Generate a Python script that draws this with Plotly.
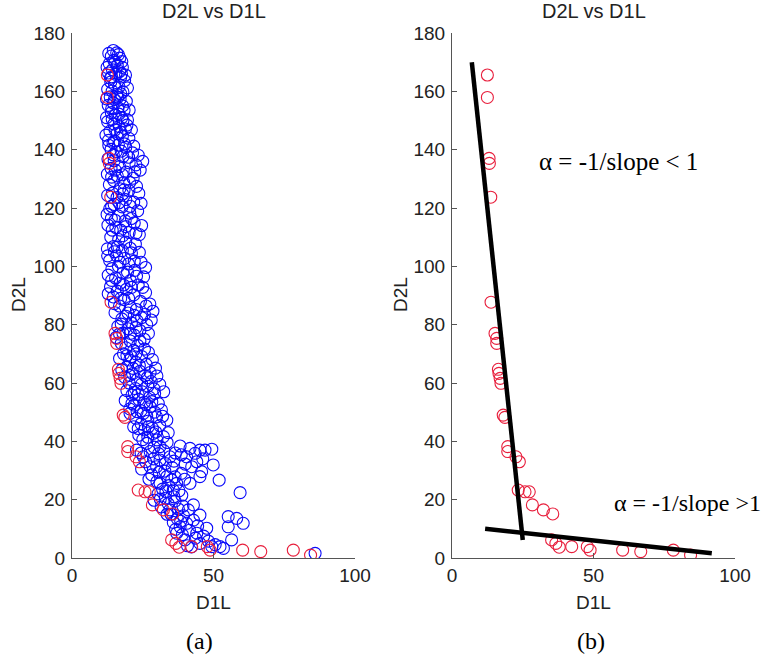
import plotly.graph_objects as go

# ---------------- data ----------------
blue_points = [
    (14.6,174.0),(15.8,173.2),(13.9,172.1),(16.9,171.4),(14.8,170.6),(13.2,169.5),(16.0,168.9),(17.8,168.2),
    (14.3,167.4),(12.9,166.3),(15.5,165.8),(17.2,164.9),(18.6,163.7),(13.7,163.2),(15.0,162.4),(16.6,161.5),
    (12.6,160.7),(14.2,160.1),(18.0,159.8),
    (15.8,159.0),(13.5,158.1),(17.0,157.3),(19.2,156.6),(14.6,156.0),(12.8,155.2),(16.3,154.4),(18.4,153.5),
    (13.9,152.7),(15.3,151.8),(17.6,151.0),(19.6,150.2),(12.6,149.6),(14.8,148.8),(16.7,147.9),(18.9,147.1),
    (13.4,146.3),(15.9,145.5),(17.8,144.6),(20.1,143.9),(12.9,143.2),(14.5,142.4),(16.4,141.6),(19.0,140.8),
    (13.8,140.1),
    (15.6,139.3),(21.4,138.9),(23.4,138.1),(18.0,137.6),(12.7,136.8),(14.9,136.2),(20.2,135.5),(22.6,134.8),
    (16.8,134.2),(13.8,133.6),(24.1,133.0),(19.1,132.3),(12.5,131.6),(16.0,131.0),(21.6,130.2),(14.8,129.4),
    (18.3,128.7),(13.2,128.0),(22.8,127.4),(16.9,126.6),(20.1,126.0),(14.3,125.1),(12.6,124.3),(15.9,123.6),
    (19.0,122.9),(21.8,122.0),(14.9,121.2),(17.7,120.4),(13.3,119.7),
    (23.2,119.0),(20.4,118.2),(16.3,117.3),(13.9,116.4),(18.8,115.6),(22.0,114.9),(12.7,114.1),(15.5,113.3),
    (17.2,112.4),(20.2,111.6),(23.8,110.9),(13.7,110.0),(16.5,109.2),(19.0,108.3),(22.4,107.6),(14.7,106.8),
    (12.5,106.0),(17.8,105.4),(21.0,104.6),(15.8,103.6),(18.6,102.7),(13.3,102.0),(24.4,101.4),(20.0,100.8),
    (16.4,100.0),(14.1,99.2),(22.2,98.6),(18.0,97.7),(12.8,97.0),(25.3,96.4),(15.4,96.0),(20.6,95.1),
    (17.0,94.2),(23.4,93.6),(13.6,93.0),(19.2,92.1),(16.0,91.5),(26.0,91.0),(21.8,90.2),(14.6,89.5),
    (18.4,88.6),(24.2,88.0),(27.5,87.1),(16.8,86.4),(20.6,85.9),(22.8,85.2),(28.6,84.6),(15.2,84.1),
    (25.6,83.5),(19.0,82.9),(17.6,82.0),(23.0,81.4),(21.0,80.6),(26.4,80.0),
    (16.2,79.4),(19.8,78.6),(24.0,78.0),(18.0,77.1),(22.0,76.4),(15.6,75.6),(25.5,75.0),(20.6,74.4),
    (17.4,73.6),(23.2,72.9),(19.0,72.1),(21.8,71.2),(27.0,70.5),(18.2,70.0),(24.6,69.1),(16.8,68.4),
    (20.4,67.9),(22.6,67.1),(26.2,66.4),(19.4,65.6),(29.5,65.1),(17.6,64.5),(24.0,64.0),(21.4,63.2),
    (25.8,62.5),(18.6,62.0),(23.0,61.1),(28.0,60.5),(20.2,60.0),
    (31.0,59.5),(26.8,58.9),(22.4,58.1),(19.4,57.4),(24.8,57.0),(29.2,56.4),(21.2,55.9),(27.4,55.1),
    (23.6,54.4),(18.8,54.0),(25.6,53.4),(30.5,53.0),(22.0,52.4),(27.6,51.9),(20.4,51.1),(24.4,50.5),
    (29.2,50.0),(25.2,49.6),(20.5,49.6),(29.9,48.4),(22.6,47.9),(33.5,47.3),(26.8,46.9),(24.4,46.0),
    (31.0,45.4),(21.8,45.0),(28.4,44.5),(25.6,43.9),(28.7,42.7),(23.6,42.1),(32.3,41.6),(30.0,40.5),
    (26.4,39.3),(31.1,38.2),(38.2,38.4),(22.8,37.0),(27.6,36.5),(36.5,36.0),(34.6,34.7),(25.2,34.7),
    (40.5,34.7),(41.7,37.6),(43.5,35.9),(45.2,37.0),(47.0,37.0),(49.4,37.3),(44.1,33.0),(31.1,33.6),
    (29.9,31.3),(27.6,31.3),(42.3,31.3),(49.9,31.9),(33.0,32.4),(24.6,30.5),(32.8,29.8),(38.6,29.0),
    (45.8,29.6),(28.2,28.5),(45.2,27.9),(33.5,27.9),(52.0,26.7),(35.2,26.8),(30.0,26.2),(41.7,25.6),
    (37.0,25.6),(31.1,25.6),
    (35.8,23.3),(59.4,22.4),(33.2,22.8),(30.4,22.0),(38.8,21.5),(36.0,21.0),(33.0,20.5),(29.0,19.8),
    (36.4,19.5),(34.0,18.6),(42.9,18.2),(39.2,17.8),(31.5,17.5),(37.6,16.8),(34.6,16.5),(41.1,16.5),
    (33.6,15.0),(45.2,14.7),(39.4,14.5),(55.2,14.2),(58.2,13.6),(37.2,13.5),(42.9,13.0),(35.8,12.2),
    (40.5,11.9),(60.5,11.9),(44.4,11.0),(38.2,10.7),(55.2,10.7),(47.6,10.2),
    (41.5,9.5),(37.0,8.5),(44.1,8.5),(46.5,7.5),(43.6,6.8),(56.4,6.2),(39.9,6.2),(48.2,5.8),
    (45.2,5.0),(50.6,4.6),(40.8,4.2),(52.3,3.9),(49.4,3.9),(42.2,3.8),(53.5,3.3),(85.9,1.6),
    (26.0,33.0),(28.8,34.0),(30.6,35.8),(32.4,36.8),(29.0,38.0),(35.4,31.0),(30.8,29.4),(27.2,27.0),
    (34.2,24.8),(32.0,23.6),(37.8,23.0),(36.4,27.8),(39.8,27.0),(31.2,20.2),(35.0,15.0),(38.4,12.6),
    (36.6,9.8),(39.0,8.0),
    (15.2,170.0),(17.5,166.0),(13.6,164.5),(16.2,158.0),(14.0,154.0),(18.0,150.0),(15.2,146.8),(13.0,141.5),
    (17.4,139.5),(15.3,133.0),(17.9,124.8),(14.0,120.6),(18.0,110.5),(15.0,105.0),(19.6,98.0),(21.0,92.8),
    (17.2,89.0),(19.8,84.0),(22.6,79.0),(21.0,69.0),(23.8,66.0),(26.6,61.8),(22.0,56.8),(26.2,52.6),
    (23.0,50.2),(27.0,45.0),(25.0,40.6),
    (13.0,173.0),(16.4,172.6),(17.6,170.2),(12.4,168.2),(16.8,166.8),(18.9,165.6),(14.0,165.0),(19.6,161.2),
    (17.2,159.2),(12.2,157.4),(15.0,157.2),(17.9,155.0),(20.2,153.6),(16.6,152.2),(12.2,151.0),(14.2,150.4),
    (19.4,148.4),(17.2,146.0),(21.0,146.8),(12.0,145.0),(15.0,143.0),(18.6,142.0),(21.8,141.2),(14.6,138.2),
    (20.0,137.4),(25.0,136.0),(22.2,132.4),(17.8,131.4),(14.0,130.6),(20.4,128.8),(23.6,125.0),(18.4,126.2),
    (16.6,121.8),(20.6,120.6),(24.4,121.6),(12.4,117.8),(15.2,115.8),(21.0,116.4),(19.0,113.6),(24.6,114.0),
    (14.2,112.4),(22.6,111.4),(16.0,106.6),(20.6,106.2),(23.8,104.8),(12.6,103.6),(17.0,101.4),(22.0,101.8),
    (26.0,99.6),(14.0,95.2),(22.8,96.6),(18.2,93.6),(25.0,92.8),(12.8,90.6),(20.0,89.0),(26.2,86.4),
    (15.0,87.2),(22.0,83.2),(17.4,80.2),(28.0,81.6),(24.6,82.4),(20.6,77.0),(27.0,77.0),(16.8,76.8),
    (24.0,74.4),(22.6,70.0),(25.6,71.6),(19.4,69.4),(28.4,68.0),(21.6,65.0),(27.6,63.6),(30.0,62.4),
    (20.4,62.6),(24.6,59.6),(29.0,58.0),(32.4,57.0),(23.4,56.0),(28.2,53.6),(21.2,53.0),(31.6,50.8),
    (26.4,48.8),(32.0,48.6),(23.4,44.4),(29.6,43.2),(34.0,43.0),(26.8,41.4),(33.6,39.6),(24.4,36.0),
    (38.6,35.4),(46.2,34.0),(40.0,32.2),(36.0,33.2),
]
blue_d1l = [p[0] for p in blue_points]
blue_d2l = [p[1] for p in blue_points]

red_d1l = [12.5, 12.5, 13.1, 13.2, 13.7, 13.8, 15.2, 15.8, 15.8, 16.4, 16.6, 17.0, 17.3, 18.1, 18.7,
           19.7, 19.7, 22.6, 23.8, 23.4, 25.8, 27.3, 28.4, 32.3, 35.6, 35.2, 36.7, 37.9, 42.3, 47.8,
           48.8, 60.3, 66.7, 78.2, 84.3]
red_d2l = [165.6, 157.9, 137.0, 135.3, 123.7, 87.7, 77.0, 75.3, 73.6, 64.7, 63.3, 61.6, 59.9, 49.0, 48.2,
           38.2, 36.5, 34.7, 33.0, 23.3, 22.7, 22.7, 18.2, 16.5, 15.1, 6.2, 5.0, 3.7, 3.9, 3.9,
           2.7, 2.7, 2.2, 2.7, 1.0]

steep_fit_d1l = [7.0, 25.0]
steep_fit_d2l = [170.0, 6.2]
flat_fit_d1l = [11.7, 91.8]
flat_fit_d2l = [10.0, 1.6]

x_ticks = [0, 50, 100]
y_ticks = [0, 20, 40, 60, 80, 100, 120, 140, 160, 180]

# ---------------- figure ----------------
BLUE = "rgb(10,10,250)"
RED = "rgb(232,30,60)"
SANS = "Liberation Sans"
SERIF = "Liberation Serif"

fig = go.Figure()
mk = lambda c: dict(symbol="circle-open", size=12, color=c, line=dict(width=1.1, color=c))

fig.add_trace(go.Scatter(x=blue_d1l, y=blue_d2l, mode="markers", marker=mk(BLUE),
                         xaxis="x", yaxis="y", showlegend=False))
fig.add_trace(go.Scatter(x=red_d1l, y=red_d2l, mode="markers", marker=mk(RED),
                         xaxis="x", yaxis="y", showlegend=False))
fig.add_trace(go.Scatter(x=red_d1l, y=red_d2l, mode="markers", marker=mk(RED),
                         xaxis="x2", yaxis="y2", showlegend=False))
fig.add_trace(go.Scatter(x=steep_fit_d1l, y=steep_fit_d2l, mode="lines",
                         line=dict(color="black", width=4.5), xaxis="x2", yaxis="y2", showlegend=False))
fig.add_trace(go.Scatter(x=flat_fit_d1l, y=flat_fit_d2l, mode="lines",
                         line=dict(color="black", width=4.5), xaxis="x2", yaxis="y2", showlegend=False))

W, H = 768, 656
ax_common = dict(ticks="inside", ticklen=5, tickcolor="#555", showline=True, linecolor="#555",
                 linewidth=1, showgrid=False, zeroline=False, mirror=False, automargin=False,
                 tickfont=dict(family=SANS, size=19, color="#222"))

def px(xp, yp):
    return xp / W, 1 - yp / H

y_dom = [px(0, 558)[1], px(0, 33)[1]]
xl = [px(72, 0)[0], px(355, 0)[0]]
xr = [px(452, 0)[0], px(735, 0)[0]]

fig.update_layout(
    width=W, height=H, margin=dict(l=0, r=0, t=0, b=0),
    plot_bgcolor="white", paper_bgcolor="white",
    xaxis=dict(domain=xl, range=[0, 100], tickvals=x_ticks, anchor="y", **ax_common),
    yaxis=dict(domain=y_dom, range=[0, 180], tickvals=y_ticks, anchor="x", ticklabelstandoff=2, **ax_common),
    xaxis2=dict(domain=xr, range=[0, 100], tickvals=x_ticks, anchor="y2", **ax_common),
    yaxis2=dict(domain=y_dom, range=[0, 180], tickvals=y_ticks, anchor="x2", ticklabelstandoff=2, **ax_common),
)

anns = []
for cx in [213.5, 593.5]:
    x, y = px(cx, 11)
    anns.append(dict(x=x, y=y, xref="paper", yref="paper", text="D2L vs D1L", showarrow=False,
                     font=dict(family=SANS, size=20, color="#222"), xanchor="center", yanchor="middle"))
    x, y = px(cx, 602)
    anns.append(dict(x=x, y=y, xref="paper", yref="paper", text="D1L", showarrow=False,
                     font=dict(family=SANS, size=19, color="#222"), xanchor="center", yanchor="middle"))
for cx in [18, 400]:
    x, y = px(cx, 295)
    anns.append(dict(x=x, y=y, xref="paper", yref="paper", text="D2L", showarrow=False, textangle=-90,
                     font=dict(family=SANS, size=19, color="#222"), xanchor="center", yanchor="middle"))
for cx, lab in [(199, "(a)"), (591, "(b)")]:
    x, y = px(cx, 641)
    anns.append(dict(x=x, y=y, xref="paper", yref="paper", text=lab, showarrow=False,
                     font=dict(family=SERIF, size=24, color="black"), xanchor="center", yanchor="middle"))

anns.append(dict(x=30.0, y=135.8, xref="x2", yref="y2", text="α = -1/slope < 1", showarrow=False,
                 font=dict(family=SERIF, size=25, color="black"), xanchor="left", yanchor="middle"))
anns.append(dict(x=56.6, y=18.9, xref="x2", yref="y2", text="α = -1/slope >1", showarrow=False,
                 font=dict(family=SERIF, size=24, color="black"), xanchor="left", yanchor="middle"))

fig.update_layout(annotations=anns)
# remove the default 8px page margin so the figure sits at the page origin
fig.write_html("out.html", config={"displayModeBar": False},
               post_script="document.body.style.margin='0';document.body.style.overflow='hidden';")
